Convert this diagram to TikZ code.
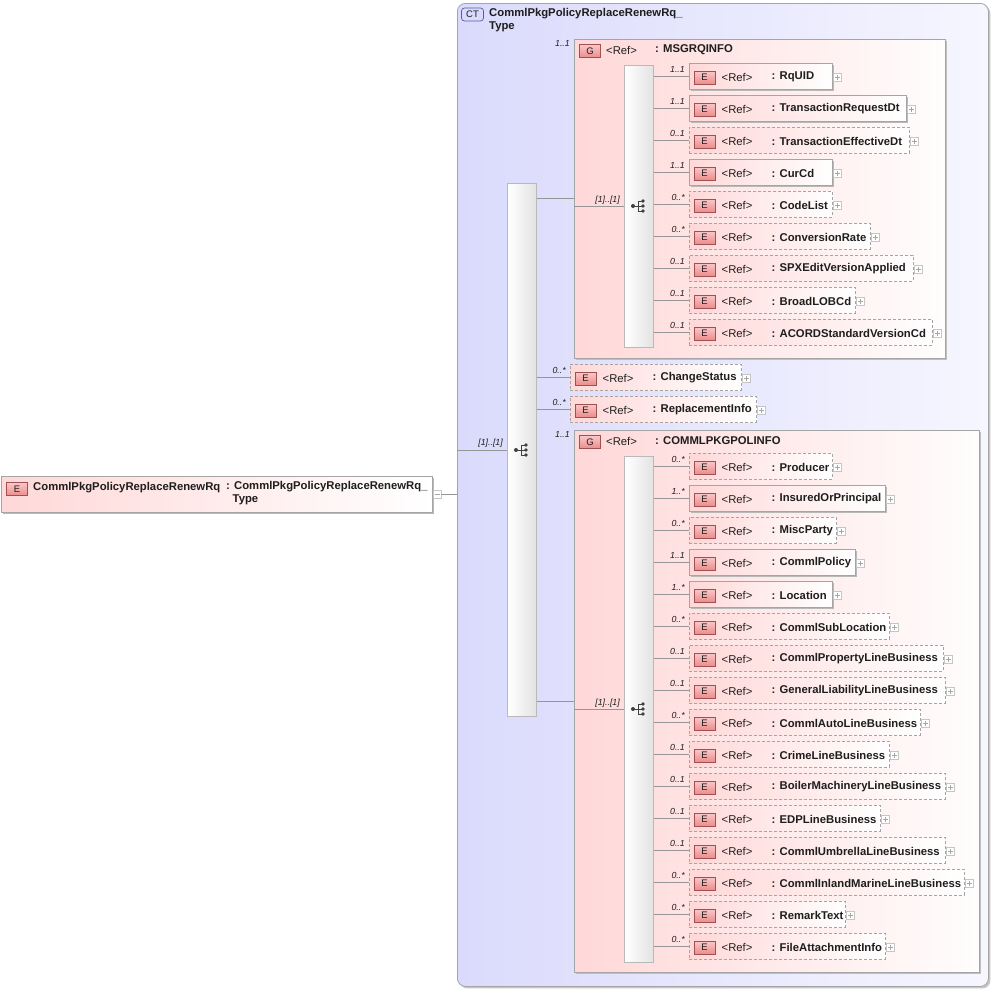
\documentclass[tikz,border=0pt]{standalone}
\usepackage{fontspec}
\setmainfont{Liberation Sans}
\usetikzlibrary{shadows}
\definecolor{ctfill}{RGB}{218,218,252}
\definecolor{ctend}{RGB}{246,246,255}
\definecolor{pinkf}{RGB}{255,216,216}
\definecolor{iconA}{RGB}{250,200,200}
\definecolor{iconB}{RGB}{236,140,140}
\definecolor{iconb}{RGB}{160,80,80}
\definecolor{lineg}{RGB}{150,150,150}
\definecolor{bord}{RGB}{165,165,165}
\definecolor{txt}{RGB}{30,30,30}
\tikzset{
  conn/.style={draw=lineg, line width=0.8pt},
  elbox/.style={left color=pinkf, right color=white, minimum height=26pt, inner sep=0pt, draw=bord, line width=0.8pt},
  solidb/.style={drop shadow={shadow xshift=1.5pt, shadow yshift=-1.5pt, fill=gray!55, opacity=1}},
  dashb/.style={dash pattern=on 3pt off 2pt},
  eicon/.style={draw=iconb, top color=iconA, bottom color=iconB, minimum width=21pt, minimum height=13pt, inner sep=0pt, font=\fontsize{9.5}{9.5}\selectfont, text=txt, line width=0.7pt},
  cticon/.style={draw=gray!70!blue, fill=ctfill, rounded corners=3pt, minimum width=22pt, minimum height=13pt, inner sep=0pt, font=\fontsize{9.5}{9.5}\selectfont, text=txt, line width=0.7pt},
  reft/.style={font=\fontsize{11.3}{13}\selectfont, inner sep=0pt, anchor=west, text=txt},
  namet/.style={font=\fontsize{11.3}{13}\selectfont\bfseries, inner sep=0pt, anchor=west, text=txt},
  cardt/.style={font=\fontsize{8.8}{10}\selectfont\itshape, inner sep=0pt, anchor=east, text=txt},
  plusb/.style={draw=gray!45, fill=white, minimum size=8pt, inner sep=0pt, line width=0.6pt},
  plusl/.style={draw=gray!70, line width=0.6pt},
  seqbox/.style={draw=gray!55, left color=white, right color=gray!22, inner sep=0pt, line width=0.8pt, anchor=north west},
  grpbox/.style={draw=bord, left color=pinkf, right color=white!95!pinkf, inner sep=0pt, line width=0.8pt, anchor=north west, drop shadow={shadow xshift=2pt, shadow yshift=-2pt, fill=gray!50, opacity=1}},
}
\newcommand\xel[8]{%
  \node[elbox,#7,minimum width={(#4-#3)*1pt},anchor=west] (#1) at (#3,#5) {};
  \node[eicon] (#1-i) at ({#3+15.5},{#5+1.5}) {E};
  \node[reft] (#1-r) at ({#3+32.5},{#5+1}) {<Ref>};
  \node[namet] (#1-n) at ({#3+82.5},{#5+1}) {: #2};
  \node[plusb] (#1-p) at ({#4+5.5},{#5+1.5}) {};
  \draw[plusl] ([xshift=-2.5pt]#1-p.center) -- ([xshift=2.5pt]#1-p.center) ([yshift=-2.5pt]#1-p.center) -- ([yshift=2.5pt]#1-p.center);
  \node[cardt] (#1-c) at ({#3-4},{#5-6.5}) {#6};
  \draw[conn] (#8.east |- #1.west) -- (#1.west);
}
\newcommand\seqicon[2]{%
  \fill[black!75] (#1,#2) circle (2pt);
  \draw[black!75, line width=0.9pt] (#1,#2) -- ({#1+5},#2) ({#1+5},{#2-5}) -- ({#1+5},{#2+5})
     ({#1+5},{#2-5}) -- ({#1+9},{#2-5}) ({#1+5},{#2+5}) -- ({#1+9},{#2+5}) ({#1+5},#2) -- ({#1+9},#2);
  \fill[black!75] ({#1+10},{#2-5}) circle (1.8pt) ({#1+10},#2) circle (1.8pt) ({#1+10},{#2+5}) circle (1.8pt);
}
\begin{document}
\begin{tikzpicture}[x=1pt,y=-1pt]
\useasboundingbox (0,0) rectangle (994,989);
\fill[white] (0,0) rectangle (994,989);

% complex type box
\node[draw=bord, left color=ctfill, right color=ctend, rounded corners=8pt, line width=0.8pt,
  minimum width=531pt, minimum height=983pt, inner sep=0pt, anchor=north west,
  drop shadow={shadow xshift=2pt, shadow yshift=-2pt, fill=gray!45, opacity=1}] (ct) at (457,3) {};
\node[cticon] (ct-i) at (472.5,14.5) {CT};
\node[namet, anchor=north west, align=left] (ct-n) at (489,8) {CommlPkgPolicyReplaceRenewRq\_\\Type};

% root element
\node[elbox, minimum width=431pt, minimum height=36pt, anchor=north west, solidb] (root) at (1,476) {};
\node[eicon] (root-i) at (17,489) {E};
\node[namet] (root-n) at (33,488) {CommlPkgPolicyReplaceRenewRq};
\node[namet, anchor=north west, align=left] (root-t) at (226,481.5) {: CommlPkgPolicyReplaceRenewRq\_\\\hspace*{6.5pt}Type};
\node[plusb] (root-m) at (437,494) {};
\draw[plusl] ([xshift=-2.5pt]root-m.center) -- ([xshift=2.5pt]root-m.center);
\draw[conn] (root-m.east) -- (root-m.east -| ct.west);

% outer sequence
\node[seqbox, minimum width=29pt, minimum height=533pt] (s0) at (507,183) {};
\seqicon{516}{450}
\coordinate (y450) at (0,450);
\draw[conn] (ct.west |- y450) -- (s0.west |- y450);
\node[cardt] (s0-c) at (503,443.5) {[1]..[1]};

% group MSGRQINFO
\node[grpbox, minimum width=371pt, minimum height=319pt] (g1) at (574,39) {};
\node[eicon] (g1-i) at (590,51) {G};
\node[reft] (g1-r) at (606,50) {<Ref>};
\node[namet] (g1-n) at (655,50) {: MSGRQINFO};
\node[cardt] (g1-c) at (570,43) {1..1};
\coordinate (y198) at (0,198);
\coordinate (y206) at (0,206);
\draw[conn] (s0.east |- y198) -- (g1.west |- y198);
\node[seqbox, minimum width=29pt, minimum height=282pt] (s1) at (624,65) {};
\seqicon{633}{206}
\draw[conn] (g1.west |- y206) -- (s1.west |- y206);
\node[cardt] (s1-c) at (620,200) {[1]..[1]};

\xel{rquid}{RqUID}{689}{832}{76}{1..1}{solidb}{s1}
\xel{trd}{TransactionRequestDt}{689}{906}{108}{1..1}{solidb}{s1}
\xel{ted}{TransactionEffectiveDt}{689}{909}{140}{0..1}{dashb}{s1}
\xel{curcd}{CurCd}{689}{832}{172}{1..1}{solidb}{s1}
\xel{codelist}{CodeList}{689}{832}{204}{0..*}{dashb}{s1}
\xel{convrate}{ConversionRate}{689}{870}{236}{0..*}{dashb}{s1}
\xel{spx}{SPXEditVersionApplied}{689}{913}{268}{0..1}{dashb}{s1}
\xel{broadlob}{BroadLOBCd}{689}{855}{300}{0..1}{dashb}{s1}
\xel{acord}{ACORDStandardVersionCd}{689}{932}{332}{0..1}{dashb}{s1}

% direct children
\xel{chg}{ChangeStatus}{570}{741}{377}{0..*}{dashb}{s0}
\xel{repl}{ReplacementInfo}{570}{756}{409}{0..*}{dashb}{s0}

% group COMMLPKGPOLINFO
\node[grpbox, minimum width=405pt, minimum height=542pt] (g2) at (574,430) {};
\node[eicon] (g2-i) at (590,442) {G};
\node[reft] (g2-r) at (606,441) {<Ref>};
\node[namet] (g2-n) at (655,441) {: COMMLPKGPOLINFO};
\node[cardt] (g2-c) at (570,434) {1..1};
\coordinate (y701) at (0,701);
\coordinate (y709) at (0,709);
\draw[conn] (s0.east |- y701) -- (g2.west |- y701);
\node[seqbox, minimum width=29pt, minimum height=506pt] (s2) at (624,456) {};
\seqicon{633}{709}
\draw[conn] (g2.west |- y709) -- (s2.west |- y709);
\node[cardt] (s2-c) at (620,703) {[1]..[1]};

\xel{producer}{Producer}{689}{832}{466}{0..*}{dashb}{s2}
\xel{insured}{InsuredOrPrincipal}{689}{885}{498}{1..*}{solidb}{s2}
\xel{misc}{MiscParty}{689}{836}{530}{0..*}{dashb}{s2}
\xel{cpolicy}{CommlPolicy}{689}{855}{562}{1..1}{solidb}{s2}
\xel{location}{Location}{689}{832}{594}{1..*}{solidb}{s2}
\xel{subloc}{CommlSubLocation}{689}{889}{626}{0..*}{dashb}{s2}
\xel{cprop}{CommlPropertyLineBusiness}{689}{943}{658}{0..1}{dashb}{s2}
\xel{genliab}{GeneralLiabilityLineBusiness}{689}{945}{690}{0..1}{dashb}{s2}
\xel{cauto}{CommlAutoLineBusiness}{689}{920}{722}{0..*}{dashb}{s2}
\xel{crime}{CrimeLineBusiness}{689}{889}{754}{0..1}{dashb}{s2}
\xel{boiler}{BoilerMachineryLineBusiness}{689}{945}{786}{0..1}{dashb}{s2}
\xel{edp}{EDPLineBusiness}{689}{880}{818}{0..1}{dashb}{s2}
\xel{umbr}{CommlUmbrellaLineBusiness}{689}{945}{850}{0..1}{dashb}{s2}
\xel{inland}{CommlInlandMarineLineBusiness}{689}{964}{882}{0..*}{dashb}{s2}
\xel{remark}{RemarkText}{689}{845}{914}{0..*}{dashb}{s2}
\xel{fileatt}{FileAttachmentInfo}{689}{885}{946}{0..*}{dashb}{s2}
\end{tikzpicture}
\end{document}
